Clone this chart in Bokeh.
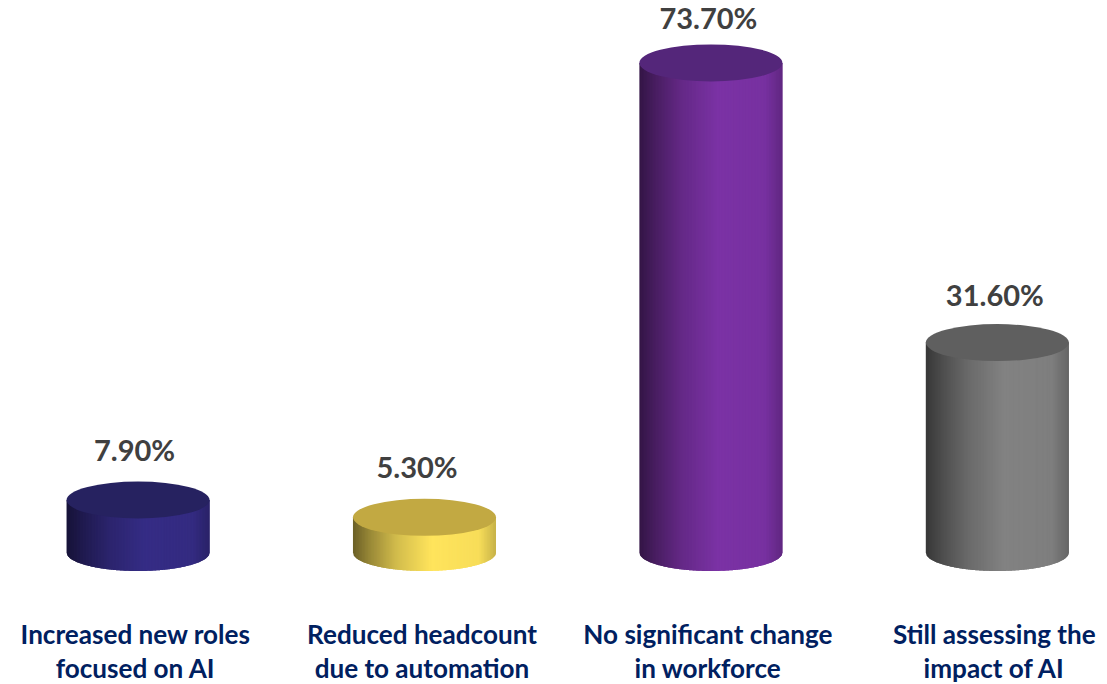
from bokeh.core.properties import value
from bokeh.embed import file_html
from bokeh.models import Range1d
from bokeh.plotting import figure
from bokeh.resources import INLINE
import numpy as np

# Survey results
categories_line1 = ["Increased new roles", "Reduced headcount", "No significant change", "Still assessing the"]
categories_line2 = ["focused on AI", "due to automation", "in workforce", "impact of AI"]
values = [7.9, 5.3, 73.7, 31.6]
value_labels = ["7.90%", "5.30%", "73.70%", "31.60%"]

# Cylinder colours: lit side and flat top
side_colors = ["#352c85", "#ffe45c", "#7b32a5", "#828282"]
top_colors = ["#262260", "#c2a942", "#54267a", "#5f5f5f"]

# Horizontal shading across a cylinder: offset from left edge, brightness factor
shade_offsets = [0.0, 0.12, 0.3, 0.55, 0.88, 1.0]
shade_factors = [0.42, 0.6, 0.82, 1.0, 0.97, 0.78]

# Pixel nudges for the labels (the tallest value label sits closer to its cap)
value_label_dx = [-3.5, -7.5, -2.5, -2.5]
value_label_dy = [-51, -51, -45.5, -48]
category_label_dx = [-2.5, -2.5, -3, -3]

HALF_WIDTH = 0.2497
CAP_RY = 2.785
STRIPS = 96


def shaded(color, factor):
    rgb = [int(color[i:i + 2], 16) for i in (1, 3, 5)]
    return "#%02x%02x%02x" % tuple(int(round(c * factor)) for c in rgb)


p = figure(
    width=1107, height=684, output_backend="svg", toolbar_location=None,
    x_range=Range1d(-0.4803, 3.3847), y_range=Range1d(-19.87, 83.1),
    min_border=0, outline_line_color=None,
)
p.axis.visible = False
p.grid.visible = False

# Cylinder sides as narrow overlapping strips, each ending on the lower rim
xs, ys, fills = [], [], []
edges = np.linspace(-1, 1, STRIPS + 1)
for i, v in enumerate(values):
    for k in range(STRIPS):
        a, b = edges[k], edges[min(k + 2, STRIPS)]
        u = np.linspace(a, b, 5)
        rim = -CAP_RY * np.sqrt(np.clip(1 - u ** 2, 0, 1))
        xs.append(list(i + u * HALF_WIDTH) + [i + b * HALF_WIDTH, i + a * HALF_WIDTH])
        ys.append(list(rim) + [v, v])
        t = (edges[k] + edges[k + 1] + 2) / 4
        fills.append(shaded(side_colors[i], float(np.interp(t, shade_offsets, shade_factors))))
p.patches(xs, ys, fill_color=fills, line_color=None)

# Flat tops
indices = list(range(len(values)))
p.ellipse(
    x=indices, y=values, width=2 * HALF_WIDTH, height=2 * CAP_RY,
    fill_color=top_colors, line_color=None,
)

# Value labels above each cap
p.text(
    x=indices, y=values, text=value_labels,
    x_offset=value_label_dx, y_offset=value_label_dy,
    text_font=value("Lato"), text_font_style="bold", text_font_size="29px",
    text_color="#404040", text_align="center", text_baseline="middle",
)

# Two-line category labels below the cylinders
for row, y in ((categories_line1, -12.3), (categories_line2, -17.45)):
    p.text(
        x=indices, y=[y] * 4, text=row, x_offset=category_label_dx,
        text_font=value("Lato"), text_font_style="bold", text_font_size="26.1px",
        text_color="#002060", text_align="center", text_baseline="middle",
    )

open("out.html", "w").write(file_html(p, INLINE))
